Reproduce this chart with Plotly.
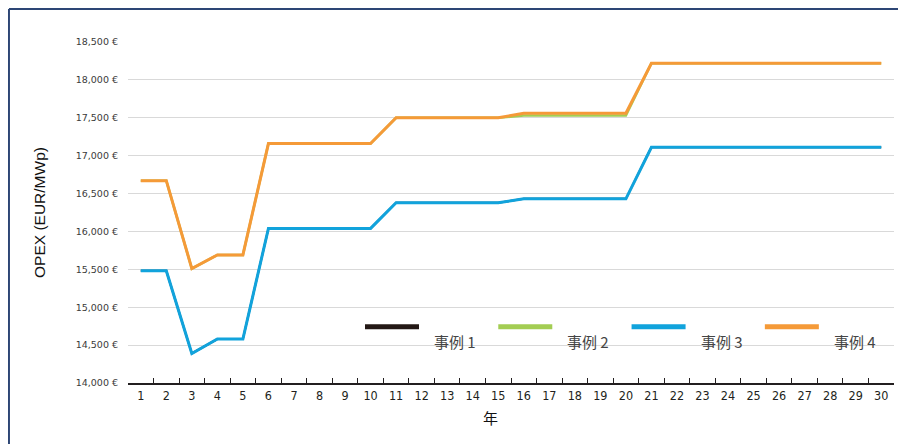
import plotly.graph_objects as go

years = list(range(1, 31))

case1 = [15480, 15480, 14390, 14580, 14580] + [16040] * 5 + [16380] * 5 + [16430] * 5 + [17110] * 10
case2 = [16670, 16670, 15510, 15690, 15690] + [17160] * 5 + [17500] * 5 + [17530] * 5 + [18220] * 10
case3 = [15480, 15480, 14390, 14580, 14580] + [16040] * 5 + [16380] * 5 + [16430] * 5 + [17110] * 10
case4 = [16670, 16670, 15510, 15690, 15690] + [17160] * 5 + [17500] * 5 + [17560] * 5 + [18220] * 10

names = ["事例 1", "事例 2", "事例 3", "事例 4"]
colors = ["#231815", "#a3cd53", "#11a3dc", "#f59a38"]
widths = [2, 2.5, 3, 3]  # cases 1 and 2 sit beneath 3 and 4
y_ticks = [14000, 14500, 15000, 15500, 16000, 16500, 17000, 17500, 18000, 18500]
y_ticktext = [f"{v:,} €" for v in y_ticks]

fig = go.Figure()

for name, color, width, values in zip(names, colors, widths, [case1, case2, case3, case4]):
    fig.add_trace(go.Scatter(
        x=years, y=values, mode="lines", name=name,
        line={"color": color, "width": width},
        showlegend=False,
    ))

# legend drawn by hand: thick swatch with the label set lower-right of it
for i, (name, color) in enumerate(zip(names, colors)):
    x0 = 0.3094 + i * 0.174
    fig.add_shape(type="line", xref="paper", yref="paper",
                  x0=x0, x1=x0 + 0.0705, y0=0.165, y1=0.165,
                  line={"color": color, "width": 5})
    fig.add_annotation(
        text=name, xref="paper", yref="paper", x=x0 + 0.0875, y=0.123,
        xanchor="left", yanchor="middle", showarrow=False,
        font={"family": "Noto Sans CJK SC", "size": 15, "color": "#444"},
    )

# chart frame (top and left edges)
frame = "#2d4675"
fig.add_shape(type="line", xref="paper", yref="paper", x0=-0.1554, x1=1.02, y0=1.0968, y1=1.0968,
              line={"color": frame, "width": 2})
fig.add_shape(type="line", xref="paper", yref="paper", x0=-0.1554, x1=-0.1554, y0=-0.2, y1=1.0968,
              line={"color": frame, "width": 2})

fig.add_annotation(
    text="年", xref="paper", yref="paper", x=0.4737, y=-0.1026,
    showarrow=False, yanchor="middle",
    font={"family": "Noto Sans CJK SC", "size": 15, "color": "#111"},
)

fig.update_layout(
    width=898, height=436,
    margin=dict(l=120, r=12, t=34, b=61),
    paper_bgcolor="white", plot_bgcolor="white",
    font={"family": "DejaVu Sans Condensed, Liberation Sans Narrow, sans-serif", "color": "#333"},
    showlegend=False,
    xaxis={
        "type": "category", "range": [-0.5, 29.5], "tickson": "boundaries",
        "ticks": "inside", "ticklen": 5,
        "tickcolor": "#231f20", "showline": True, "linecolor": "#231f20", "linewidth": 2,
        "showgrid": False, "zeroline": False, "tickangle": 0,
        "tickfont": {"size": 12.5, "color": "#231f20"},
    },
    yaxis={
        "range": [14000, 18500], "tickvals": y_ticks, "ticktext": y_ticktext,
        "showgrid": True, "gridcolor": "#d9d9d9", "gridwidth": 1, "zeroline": False,
        "showline": False, "ticks": "", "ticklabelstandoff": 9,
        "tickfont": {"family": "DejaVu Sans", "size": 9.5, "color": "#3a3a3a"},
        "title": {"text": "OPEX (EUR/MWp)", "standoff": 26,
                  "font": {"family": "Liberation Sans, Arial, sans-serif", "size": 15.5, "color": "#111"}},
    },
)

fig.write_html("out.html")
